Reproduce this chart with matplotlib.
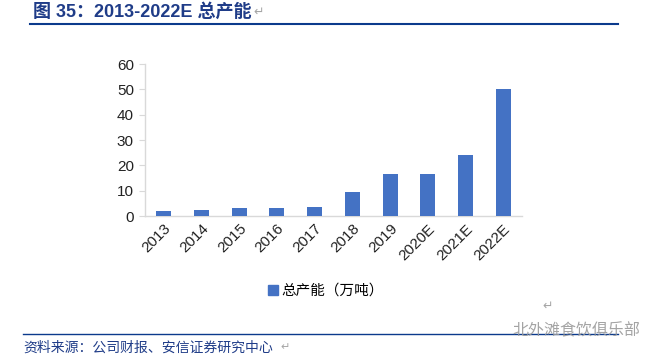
import matplotlib
matplotlib.use("Agg")
import matplotlib.pyplot as plt
from matplotlib.lines import Line2D

plt.rcParams['font.family'] = ['Liberation Sans', 'Noto Sans CJK SC', 'DejaVu Sans']

categories = ["2013", "2014", "2015", "2016", "2017", "2018", "2019", "2020E", "2021E", "2022E"]
values = [2.0, 2.4, 3.3, 3.3, 3.6, 9.5, 16.6, 16.6, 24.1, 50.0]
yticks = [0, 10, 20, 30, 40, 50, 60]
series_name = "总产能（万吨）"
title = "图 35：2013-2022E 总产能"
source = "资料来源：公司财报、安信证券研究中心"
watermark = "北外滩食饮俱乐部"

W, H = 660, 360
fig = plt.figure(figsize=(W / 100, H / 100), dpi=100)
ax = fig.add_axes([145 / W, 1 - 216 / H, (522 - 145) / W, (216 - 64) / H])

bar_color = "#4472C4"
x = list(range(len(categories)))
ax.bar(x, values, width=0.4, color=bar_color, label=series_name, zorder=3)
ax.set_xlim(-0.5, len(categories) - 0.5)
ax.set_ylim(0, 60)
ax.set_yticks(yticks)
ax.set_xticks(x)
ax.set_xticklabels(categories, rotation=45, ha="right", rotation_mode="anchor", fontsize=11, color="#222222")
ax.tick_params(axis="x", length=0, pad=4)
ax.tick_params(axis="y", length=4, color="#D9D9D9", labelsize=11, labelcolor="#222222", pad=4)
for s in ["top", "right"]:
    ax.spines[s].set_visible(False)
for s in ["left", "bottom"]:
    ax.spines[s].set_color("#D9D9D9")
    ax.spines[s].set_linewidth(1.0)

# legend
handle = Line2D([], [], marker="s", linestyle="none", markersize=7, color=bar_color)
fig.legend([handle], [series_name], loc="center", bbox_to_anchor=(324 / W, 1 - 291 / H),
           frameon=False, handletextpad=0.0, handlelength=1.2,
           prop={'family': ['Noto Sans CJK SC'], 'size': 10.5})

gray = "#A6A6A6"
# title
title_color = "#1F3C88"
fig.text(33 / W, 1 - 12 / H, title, fontsize=13, fontweight="bold", color=title_color,
         va="center", ha="left", family=['Liberation Sans', 'Noto Sans CJK SC'])
fig.text(253 / W, 1 - 12 / H, "↵", fontsize=9, color=gray, va="center", ha="left", family=['DejaVu Sans'])
fig.add_artist(Line2D([30 / W, 618 / W], [1 - 24 / H, 1 - 24 / H], color="#0B3A8C", linewidth=1.5))

# paragraph mark in chart area
fig.text(548 / W, 1 - 306 / H, "↵", fontsize=9, color=gray, va="center", ha="center", family=['DejaVu Sans'])

# bottom rule and source
fig.add_artist(Line2D([23 / W, 618 / W], [1 - 334 / H, 1 - 334 / H], color="#0B3A8C", linewidth=1.0))
fig.text(23 / W, 1 - 348 / H, source, fontsize=10, color="#1F3C88", style="italic",
         va="center", ha="left", family=['Noto Sans CJK SC'])
fig.text(280 / W, 1 - 347 / H, "↵", fontsize=8, color=gray, va="center", ha="left", family=['DejaVu Sans'])

# watermark
fig.text(640 / W, 1 - 331 / H, watermark, fontsize=11.5, color="#9A9A9A", alpha=0.9,
         va="center", ha="right", family=['Noto Sans CJK SC'])

fig.savefig("out.png", dpi=100)
